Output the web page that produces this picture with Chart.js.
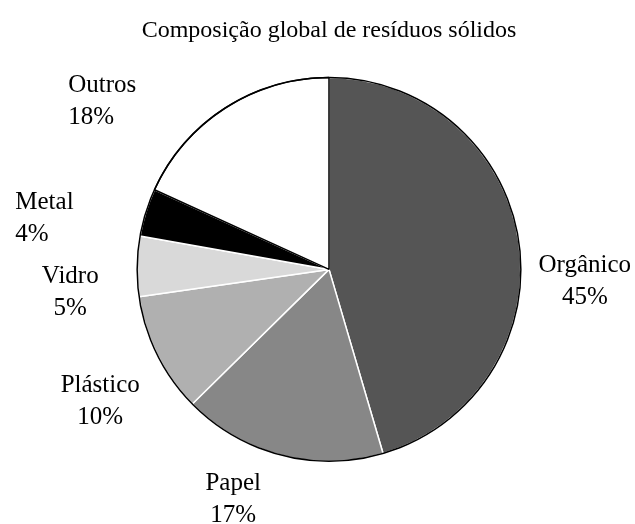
<!DOCTYPE html>
<html>
<head>
<meta charset="utf-8">
<script src="https://cdn.jsdelivr.net/npm/chart.js@4.4.0/dist/chart.umd.min.js"></script>
<style>
  html, body { margin: 0; padding: 0; background: #fff; }
  #wrap { width: 635px; height: 524px; }
</style>
</head>
<body>
<div id="wrap"><canvas id="c" width="635" height="524"></canvas></div>
<script>
// Share of global solid waste by material (%)
const categories = ['Orgânico', 'Papel', 'Plástico', 'Vidro', 'Metal', 'Outros'];
const shares = [45, 17, 10, 5, 4, 18];
const sliceColors = ['#555555', '#878787', '#b0b0b0', '#d9d9d9', '#000000', '#ffffff'];
const edgeColors = ['#ffffff', '#ffffff', '#ffffff', '#ffffff', '#ffffff', '#000000'];

// Where each two-line label sits: angle clockwise from 12 o'clock, distance in radii
const labelPlacement = [
  { deg: 92.8,  dist: 1.335, align: 'center' },
  { deg: 202.6, dist: 1.300, align: 'center' },
  { deg: 240.0, dist: 1.377, align: 'center' },
  { deg: 264.9, dist: 1.354, align: 'center' },
  { deg: 279.3, dist: 1.657, align: 'left' },
  { deg: 302.8, dist: 1.617, align: 'left' }
];

const serif = '"Liberation Serif", "DejaVu Serif", serif';

// Thin black rim around the whole pie
const pieOutline = {
  id: 'pieOutline',
  afterDatasetsDraw(chart) {
    const arc = chart.getDatasetMeta(0).data[0];
    if (!arc) return;
    const { x, y, outerRadius } = arc.getProps(['x', 'y', 'outerRadius'], true);
    const ctx = chart.ctx;
    ctx.save();
    ctx.beginPath();
    ctx.arc(x, y, outerRadius, 0, Math.PI * 2);
    ctx.lineWidth = 1.5;
    ctx.strokeStyle = '#000';
    ctx.stroke();
    ctx.restore();
  }
};

// Category name and percentage outside each slice
const sliceLabels = {
  id: 'sliceLabels',
  afterDatasetsDraw(chart) {
    const arcs = chart.getDatasetMeta(0).data;
    const ctx = chart.ctx;
    ctx.save();
    ctx.font = '25px ' + serif;
    ctx.fillStyle = '#000';
    ctx.textBaseline = 'middle';
    arcs.forEach((arc, i) => {
      const { x, y, outerRadius } = arc.getProps(['x', 'y', 'outerRadius'], true);
      const p = labelPlacement[i];
      const a = p.deg * Math.PI / 180;
      const lx = x + Math.sin(a) * outerRadius * p.dist;
      const ly = y - Math.cos(a) * outerRadius * p.dist;
      ctx.textAlign = p.align;
      ctx.fillText(categories[i], lx, ly - 16);
      ctx.fillText(shares[i] + '%', lx, ly + 16);
    });
    ctx.restore();
  }
};

new Chart(document.getElementById('c'), {
  type: 'pie',
  data: {
    labels: categories,
    datasets: [{
      data: shares,
      backgroundColor: sliceColors,
      borderColor: edgeColors,
      borderWidth: 1.5
    }]
  },
  options: {
    responsive: false,
    animation: false,
    devicePixelRatio: 1,
    layout: { padding: { left: 23, right: 0, top: 0, bottom: 62 } },
    plugins: {
      legend: { display: false },
      tooltip: { enabled: false },
      title: {
        display: true,
        text: 'Composição global de resíduos sólidos',
        color: '#000',
        font: { family: serif, size: 24, weight: 'normal' },
        padding: { top: 16, bottom: 32 }
      }
    }
  },
  plugins: [pieOutline, sliceLabels]
});
</script>
</body>
</html>
